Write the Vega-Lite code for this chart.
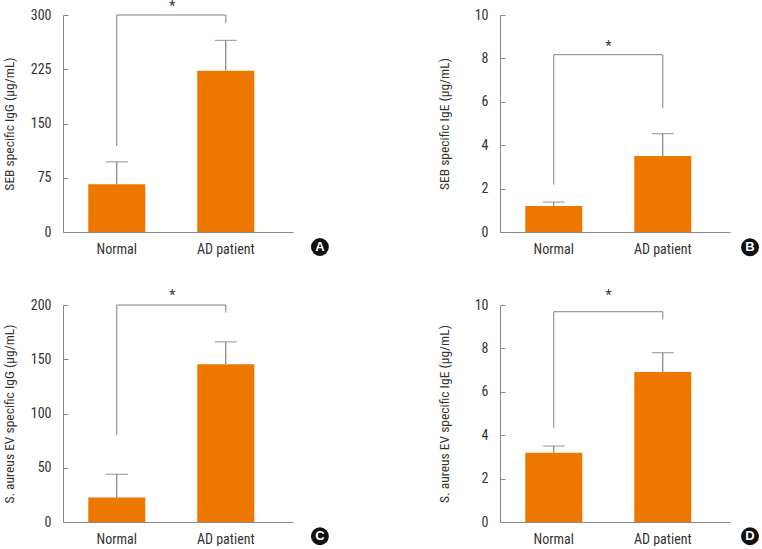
{
  "$schema": "https://vega.github.io/schema/vega-lite/v6.json",
  "background": "white",
  "padding": {"left": 1, "top": 0, "right": 0, "bottom": 0},
  "datasets": {
    "bars": [
      {"panel": "A", "group": "Normal", "mean": 66, "err": 97},
      {"panel": "A", "group": "AD patient", "mean": 223, "err": 265},
      {"panel": "B", "group": "Normal", "mean": 1.2, "err": 1.38},
      {"panel": "B", "group": "AD patient", "mean": 3.5, "err": 4.53},
      {"panel": "C", "group": "Normal", "mean": 22.5, "err": 44},
      {"panel": "C", "group": "AD patient", "mean": 145.5, "err": 166},
      {"panel": "D", "group": "Normal", "mean": 3.19, "err": 3.5},
      {"panel": "D", "group": "AD patient", "mean": 6.91, "err": 7.8}
    ],
    "bracket": [
      {"panel": "A", "group": "Normal", "low": 119, "top": 300},
      {"panel": "A", "group": "AD patient", "low": 289, "top": 300},
      {"panel": "B", "group": "Normal", "low": 2.18, "top": 8.17},
      {"panel": "B", "group": "AD patient", "low": 5.71, "top": 8.17},
      {"panel": "C", "group": "Normal", "low": 80, "top": 200},
      {"panel": "C", "group": "AD patient", "low": 193, "top": 200},
      {"panel": "D", "group": "Normal", "low": 4.34, "top": 9.69},
      {"panel": "D", "group": "AD patient", "low": 9.34, "top": 9.69}
    ],
    "span": [
      {"panel": "A", "from": "Normal", "to": "AD patient", "top": 300},
      {"panel": "B", "from": "Normal", "to": "AD patient", "top": 8.17},
      {"panel": "C", "from": "Normal", "to": "AD patient", "top": 200},
      {"panel": "D", "from": "Normal", "to": "AD patient", "top": 9.69}
    ],
    "notes": [
      {"panel": "A", "pos": 0.475, "star": 311, "badgeX": 1.117, "badgeY": -20.7, "letter": "A"},
      {"panel": "B", "pos": 0.472, "star": 8.54, "badgeX": 1.087, "badgeY": -0.705, "letter": "B"},
      {"panel": "C", "pos": 0.475, "star": 208.3, "badgeX": 1.117, "badgeY": -13.1, "letter": "C"},
      {"panel": "D", "pos": 0.472, "star": 10.41, "badgeX": 1.087, "badgeY": -0.657, "letter": "D"}
    ]
  },
  "config": {
    "view": {"stroke": null},
    "font": "Roboto Condensed, Liberation Sans Narrow, DejaVu Sans Condensed, sans-serif",
    "axis": {"domainColor": "#888888", "tickColor": "#888888", "labelColor": "#333333", "titleColor": "#333333", "labelFontSize": 14, "titleFontSize": 13.5, "titleFontWeight": "normal", "grid": false},
    "axisY": {"tickSize": -5, "labelPadding": 17, "titleBaseline": "middle"},
    "axisX": {"ticks": false, "labelPadding": 10, "labelAngle": 0, "title": null}
  },
  "columns": 2,
  "bounds": "flush",
  "spacing": {"row": 73, "column": 207},
  "concat": [
    {
      "width": 230, "height": 217,
      "resolve": {"scale": {"x": "independent"}},
      "layer": [
        {"layer": [
          {"data": {"name": "bars"}, "transform": [{"filter": "datum.panel === 'A'"}],
           "mark": {"type": "bar", "color": "#EE7700"},
           "encoding": {
             "x": {"field": "group", "type": "nominal", "scale": {"domain": ["Normal", "AD patient"], "paddingInner": 0.477, "paddingOuter": 0.2935, "align": 0.395}},
             "y": {"field": "mean", "type": "quantitative", "scale": {"domain": [0, 300]}, "axis": {"values": [0, 75, 150, 225, 300], "title": "SEB specific IgG (μg/mL)", "titleX": -54}}}},
          {"data": {"name": "bars"}, "transform": [{"filter": "datum.panel === 'A'"}],
           "mark": {"type": "rule", "color": "#666666"},
           "encoding": {"x": {"field": "group", "type": "nominal"}, "y": {"field": "mean", "type": "quantitative"}, "y2": {"field": "err"}}},
          {"data": {"name": "bars"}, "transform": [{"filter": "datum.panel === 'A'"}],
           "mark": {"type": "tick", "color": "#666666", "size": 22, "thickness": 1},
           "encoding": {"x": {"field": "group", "type": "nominal"}, "y": {"field": "err", "type": "quantitative"}}},
          {"data": {"name": "bracket"}, "transform": [{"filter": "datum.panel === 'A'"}],
           "mark": {"type": "rule", "color": "#808080"},
           "encoding": {"x": {"field": "group", "type": "nominal"}, "y": {"field": "low", "type": "quantitative"}, "y2": {"field": "top"}}},
          {"data": {"name": "span"}, "transform": [{"filter": "datum.panel === 'A'"}],
           "mark": {"type": "rule", "color": "#808080"},
           "encoding": {"x": {"field": "from", "type": "nominal"}, "x2": {"field": "to"}, "y": {"field": "top", "type": "quantitative"}}}
        ]},
        {"data": {"name": "notes"}, "transform": [{"filter": "datum.panel === 'A'"}],
         "layer": [
          {"mark": {"type": "text", "text": "*", "fontSize": 14, "color": "#333333", "baseline": "middle"},
           "encoding": {"x": {"field": "pos", "type": "quantitative", "scale": {"domain": [0, 1], "nice": false}, "axis": null}, "y": {"field": "star", "type": "quantitative"}}},
          {"mark": {"type": "point", "shape": "circle", "filled": true, "size": 320, "color": "#111111", "opacity": 1},
           "encoding": {"x": {"field": "badgeX", "type": "quantitative"}, "y": {"field": "badgeY", "type": "quantitative"}}},
          {"mark": {"type": "text", "fontSize": 13, "fontWeight": "bold", "color": "white", "baseline": "middle", "font": "Liberation Sans"},
           "encoding": {"x": {"field": "badgeX", "type": "quantitative"}, "y": {"field": "badgeY", "type": "quantitative"}, "text": {"field": "letter"}}}
        ]}
      ]
    },
    {
      "width": 230, "height": 217,
      "resolve": {"scale": {"x": "independent"}},
      "layer": [
        {"layer": [
          {"data": {"name": "bars"}, "transform": [{"filter": "datum.panel === 'B'"}],
           "mark": {"type": "bar", "color": "#EE7700"},
           "encoding": {
             "x": {"field": "group", "type": "nominal", "scale": {"domain": ["Normal", "AD patient"], "paddingInner": 0.477, "paddingOuter": 0.2935, "align": 0.395}},
             "y": {"field": "mean", "type": "quantitative", "scale": {"domain": [0, 10]}, "axis": {"values": [0, 2, 4, 6, 8, 10], "title": "SEB specific IgE (μg/mL)", "titleX": -55.5}}}},
          {"data": {"name": "bars"}, "transform": [{"filter": "datum.panel === 'B'"}],
           "mark": {"type": "rule", "color": "#666666"},
           "encoding": {"x": {"field": "group", "type": "nominal"}, "y": {"field": "mean", "type": "quantitative"}, "y2": {"field": "err"}}},
          {"data": {"name": "bars"}, "transform": [{"filter": "datum.panel === 'B'"}],
           "mark": {"type": "tick", "color": "#666666", "size": 22, "thickness": 1},
           "encoding": {"x": {"field": "group", "type": "nominal"}, "y": {"field": "err", "type": "quantitative"}}},
          {"data": {"name": "bracket"}, "transform": [{"filter": "datum.panel === 'B'"}],
           "mark": {"type": "rule", "color": "#808080"},
           "encoding": {"x": {"field": "group", "type": "nominal"}, "y": {"field": "low", "type": "quantitative"}, "y2": {"field": "top"}}},
          {"data": {"name": "span"}, "transform": [{"filter": "datum.panel === 'B'"}],
           "mark": {"type": "rule", "color": "#808080"},
           "encoding": {"x": {"field": "from", "type": "nominal"}, "x2": {"field": "to"}, "y": {"field": "top", "type": "quantitative"}}}
        ]},
        {"data": {"name": "notes"}, "transform": [{"filter": "datum.panel === 'B'"}],
         "layer": [
          {"mark": {"type": "text", "text": "*", "fontSize": 14, "color": "#333333", "baseline": "middle"},
           "encoding": {"x": {"field": "pos", "type": "quantitative", "scale": {"domain": [0, 1], "nice": false}, "axis": null}, "y": {"field": "star", "type": "quantitative"}}},
          {"mark": {"type": "point", "shape": "circle", "filled": true, "size": 320, "color": "#111111", "opacity": 1},
           "encoding": {"x": {"field": "badgeX", "type": "quantitative"}, "y": {"field": "badgeY", "type": "quantitative"}}},
          {"mark": {"type": "text", "fontSize": 13, "fontWeight": "bold", "color": "white", "baseline": "middle", "font": "Liberation Sans"},
           "encoding": {"x": {"field": "badgeX", "type": "quantitative"}, "y": {"field": "badgeY", "type": "quantitative"}, "text": {"field": "letter"}}}
        ]}
      ]
    },
    {
      "width": 230, "height": 217,
      "resolve": {"scale": {"x": "independent"}},
      "layer": [
        {"layer": [
          {"data": {"name": "bars"}, "transform": [{"filter": "datum.panel === 'C'"}],
           "mark": {"type": "bar", "color": "#EE7700"},
           "encoding": {
             "x": {"field": "group", "type": "nominal", "scale": {"domain": ["Normal", "AD patient"], "paddingInner": 0.477, "paddingOuter": 0.2935, "align": 0.395}},
             "y": {"field": "mean", "type": "quantitative", "scale": {"domain": [0, 200]}, "axis": {"values": [0, 50, 100, 150, 200], "title": "S. aureus EV specific IgG (μg/mL)", "titleX": -54}}}},
          {"data": {"name": "bars"}, "transform": [{"filter": "datum.panel === 'C'"}],
           "mark": {"type": "rule", "color": "#666666"},
           "encoding": {"x": {"field": "group", "type": "nominal"}, "y": {"field": "mean", "type": "quantitative"}, "y2": {"field": "err"}}},
          {"data": {"name": "bars"}, "transform": [{"filter": "datum.panel === 'C'"}],
           "mark": {"type": "tick", "color": "#666666", "size": 22, "thickness": 1},
           "encoding": {"x": {"field": "group", "type": "nominal"}, "y": {"field": "err", "type": "quantitative"}}},
          {"data": {"name": "bracket"}, "transform": [{"filter": "datum.panel === 'C'"}],
           "mark": {"type": "rule", "color": "#808080"},
           "encoding": {"x": {"field": "group", "type": "nominal"}, "y": {"field": "low", "type": "quantitative"}, "y2": {"field": "top"}}},
          {"data": {"name": "span"}, "transform": [{"filter": "datum.panel === 'C'"}],
           "mark": {"type": "rule", "color": "#808080"},
           "encoding": {"x": {"field": "from", "type": "nominal"}, "x2": {"field": "to"}, "y": {"field": "top", "type": "quantitative"}}}
        ]},
        {"data": {"name": "notes"}, "transform": [{"filter": "datum.panel === 'C'"}],
         "layer": [
          {"mark": {"type": "text", "text": "*", "fontSize": 14, "color": "#333333", "baseline": "middle"},
           "encoding": {"x": {"field": "pos", "type": "quantitative", "scale": {"domain": [0, 1], "nice": false}, "axis": null}, "y": {"field": "star", "type": "quantitative"}}},
          {"mark": {"type": "point", "shape": "circle", "filled": true, "size": 320, "color": "#111111", "opacity": 1},
           "encoding": {"x": {"field": "badgeX", "type": "quantitative"}, "y": {"field": "badgeY", "type": "quantitative"}}},
          {"mark": {"type": "text", "fontSize": 13, "fontWeight": "bold", "color": "white", "baseline": "middle", "font": "Liberation Sans"},
           "encoding": {"x": {"field": "badgeX", "type": "quantitative"}, "y": {"field": "badgeY", "type": "quantitative"}, "text": {"field": "letter"}}}
        ]}
      ]
    },
    {
      "width": 230, "height": 217,
      "resolve": {"scale": {"x": "independent"}},
      "layer": [
        {"layer": [
          {"data": {"name": "bars"}, "transform": [{"filter": "datum.panel === 'D'"}],
           "mark": {"type": "bar", "color": "#EE7700"},
           "encoding": {
             "x": {"field": "group", "type": "nominal", "scale": {"domain": ["Normal", "AD patient"], "paddingInner": 0.477, "paddingOuter": 0.2935, "align": 0.395}},
             "y": {"field": "mean", "type": "quantitative", "scale": {"domain": [0, 10]}, "axis": {"values": [0, 2, 4, 6, 8, 10], "title": "S. aureus EV specific IgE (μg/mL)", "titleX": -55.5}}}},
          {"data": {"name": "bars"}, "transform": [{"filter": "datum.panel === 'D'"}],
           "mark": {"type": "rule", "color": "#666666"},
           "encoding": {"x": {"field": "group", "type": "nominal"}, "y": {"field": "mean", "type": "quantitative"}, "y2": {"field": "err"}}},
          {"data": {"name": "bars"}, "transform": [{"filter": "datum.panel === 'D'"}],
           "mark": {"type": "tick", "color": "#666666", "size": 22, "thickness": 1},
           "encoding": {"x": {"field": "group", "type": "nominal"}, "y": {"field": "err", "type": "quantitative"}}},
          {"data": {"name": "bracket"}, "transform": [{"filter": "datum.panel === 'D'"}],
           "mark": {"type": "rule", "color": "#808080"},
           "encoding": {"x": {"field": "group", "type": "nominal"}, "y": {"field": "low", "type": "quantitative"}, "y2": {"field": "top"}}},
          {"data": {"name": "span"}, "transform": [{"filter": "datum.panel === 'D'"}],
           "mark": {"type": "rule", "color": "#808080"},
           "encoding": {"x": {"field": "from", "type": "nominal"}, "x2": {"field": "to"}, "y": {"field": "top", "type": "quantitative"}}}
        ]},
        {"data": {"name": "notes"}, "transform": [{"filter": "datum.panel === 'D'"}],
         "layer": [
          {"mark": {"type": "text", "text": "*", "fontSize": 14, "color": "#333333", "baseline": "middle"},
           "encoding": {"x": {"field": "pos", "type": "quantitative", "scale": {"domain": [0, 1], "nice": false}, "axis": null}, "y": {"field": "star", "type": "quantitative"}}},
          {"mark": {"type": "point", "shape": "circle", "filled": true, "size": 320, "color": "#111111", "opacity": 1},
           "encoding": {"x": {"field": "badgeX", "type": "quantitative"}, "y": {"field": "badgeY", "type": "quantitative"}}},
          {"mark": {"type": "text", "fontSize": 13, "fontWeight": "bold", "color": "white", "baseline": "middle", "font": "Liberation Sans"},
           "encoding": {"x": {"field": "badgeX", "type": "quantitative"}, "y": {"field": "badgeY", "type": "quantitative"}, "text": {"field": "letter"}}}
        ]}
      ]
    }
  ]
}
